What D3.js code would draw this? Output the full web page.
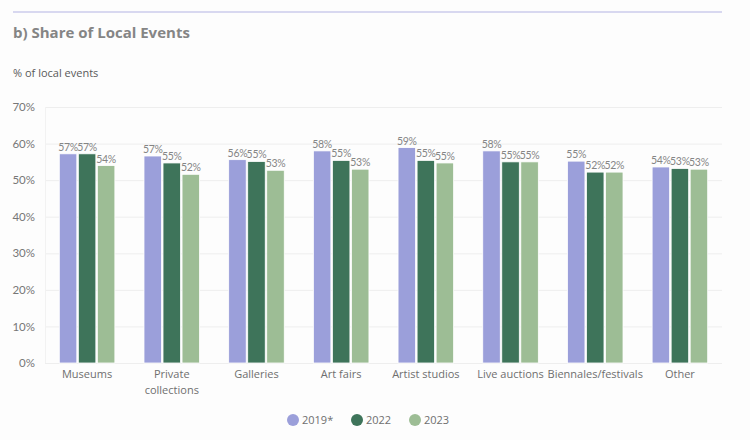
<!DOCTYPE html>
<html>
<head>
<meta charset="utf-8">
<script src="https://cdn.jsdelivr.net/npm/d3@7"></script>
<style>
    body { margin: 0; background: #fdfdfd; }
    svg text { font-family: "Open Sans", sans-serif; }
</style>
</head>
<body>
<div id="chart"></div>
<script>
var categories = ["Museums", "Private collections", "Galleries", "Art fairs", "Artist studios", "Live auctions", "Biennales/festivals", "Other"];
var series_names = ["2019*", "2022", "2023"];
var values_2019 = [57.2, 56.6, 55.6, 58.0, 58.9, 58.0, 55.2, 53.6];
var values_2022 = [57.2, 54.7, 55.1, 55.4, 55.4, 55.0, 52.2, 53.2];
var values_2023 = [54.0, 51.6, 52.7, 53.0, 54.7, 55.0, 52.2, 53.0];
var y_ticks = [0, 10, 20, 30, 40, 50, 60, 70];
var colors = ["#9b9fda", "#3e745a", "#9dbd95"];

var width = 750, height = 440;
var margin = {top: 107, right: 28, bottom: 77, left: 45};

var svg = d3.select("#chart").append("svg")
    .attr("width", width)
    .attr("height", height);

svg.append("rect")
    .attr("width", width)
    .attr("height", height)
    .attr("fill", "#fdfdfd");

// top rule + titles
svg.append("line")
    .attr("x1", 13).attr("x2", 722)
    .attr("y1", 12).attr("y2", 12)
    .attr("stroke", "#cbcbeb")
    .attr("stroke-width", 1.5);

svg.append("text")
    .text("b) Share of Local Events")
    .attr("x", 13).attr("y", 38)
    .attr("font-size", 15)
    .attr("font-weight", "bold")
    .attr("fill", "#858585");

svg.append("text")
    .text("% of local events")
    .attr("x", 13).attr("y", 77)
    .attr("font-size", 11)
    .attr("fill", "#5a5a5a");

var x = d3.scaleBand()
    .domain(categories)
    .range([margin.left, width - margin.right])
    .paddingInner(0.326)
    .paddingOuter(0.16);

var x_inner = d3.scaleBand()
    .domain(series_names)
    .range([0, x.bandwidth()])
    .padding(0);

var y = d3.scaleLinear()
    .domain([0, 70])
    .range([height - margin.bottom, margin.top]);

// gridlines
svg.append("g")
    .selectAll("line")
    .data(y_ticks)
    .enter()
    .append("line")
    .attr("x1", margin.left)
    .attr("x2", width - margin.right)
    .attr("y1", function(d) { return y(d) + 0.5; })
    .attr("y2", function(d) { return y(d) + 0.5; })
    .attr("stroke", "#eeeeee")
    .attr("stroke-width", 1);

svg.append("line")
    .attr("x1", margin.left + 0.5).attr("x2", margin.left + 0.5)
    .attr("y1", margin.top).attr("y2", y(0))
    .attr("stroke", "#f2f2f2");

// y axis
var y_axis = svg.append("g")
    .attr("transform", "translate(" + (margin.left - 7) + ",0)")
    .call(d3.axisLeft(y).tickValues(y_ticks).tickSize(0).tickFormat(function(d) { return d + "%"; }));
y_axis.select(".domain").remove();
y_axis.selectAll("text")
    .attr("font-size", 11.5)
    .attr("fill", "#777777")
    .style("font-family", "Lato, sans-serif");

var rows = categories.map(function(c, i) {
    return {cat: c, vals: [values_2019[i], values_2022[i], values_2023[i]]};
});

var groups = svg.append("g")
    .selectAll(".group")
    .data(rows)
    .enter()
    .append("g")
    .attr("class", "group")
    .attr("transform", function(d) { return "translate(" + x(d.cat) + ",0)"; });

var bars = groups.selectAll(".bar")
    .data(function(d) {
        return d.vals.map(function(v, j) { return {name: series_names[j], value: v, idx: j}; });
    })
    .enter();

bars.append("rect")
    .attr("class", "bar")
    .attr("x", function(d) { return x_inner(d.name) + 0.75; })
    .attr("width", x_inner.bandwidth() - 1.5)
    .attr("y", function(d) { return y(d.value); })
    .attr("height", function(d) { return y(0) - y(d.value); })
    .attr("fill", function(d) { return colors[d.idx]; })
    .attr("stroke", "#ffffff")
    .attr("stroke-width", 0.8);

bars.append("text")
    .text(function(d) { return Math.round(d.value) + "%"; })
    .attr("x", function(d) { return x_inner(d.name) + x_inner.bandwidth() / 2; })
    .attr("y", function(d) { return y(d.value) - 3; })
    .attr("text-anchor", "middle")
    .attr("font-size", 10.5)
    .attr("letter-spacing", -0.3)
    .attr("fill", "#858585")
    .style("font-family", "Lato, sans-serif");

// category labels
var x_axis = svg.append("g")
    .attr("transform", "translate(0," + y(0) + ")")
    .call(d3.axisBottom(x).tickSize(0).tickPadding(0));
x_axis.select(".domain").remove();
x_axis.selectAll("text")
    .attr("font-size", 11)
    .attr("fill", "#6f6f6f")
    .attr("y", 15)
    .attr("dy", null)
    .each(function(d) {
        var el = d3.select(this);
        if (d === "Private collections") {
            el.text(null);
            el.append("tspan").attr("x", 0).text("Private");
            el.append("tspan").attr("x", 0).attr("dy", 15.5).text("collections");
        }
    });

// legend
var legend_x = [293, 357, 415];
var legend = svg.append("g")
    .selectAll(".legend")
    .data(series_names)
    .enter()
    .append("g")
    .attr("class", "legend")
    .attr("transform", function(d, i) { return "translate(" + legend_x[i] + ",420)"; });

legend.append("circle")
    .attr("r", 6)
    .attr("fill", function(d, i) { return colors[i]; });

legend.append("text")
    .text(function(d) { return d; })
    .attr("x", 9)
    .attr("y", 4)
    .attr("font-size", 11)
    .attr("fill", "#6f6f6f");
</script>
</body>
</html>
